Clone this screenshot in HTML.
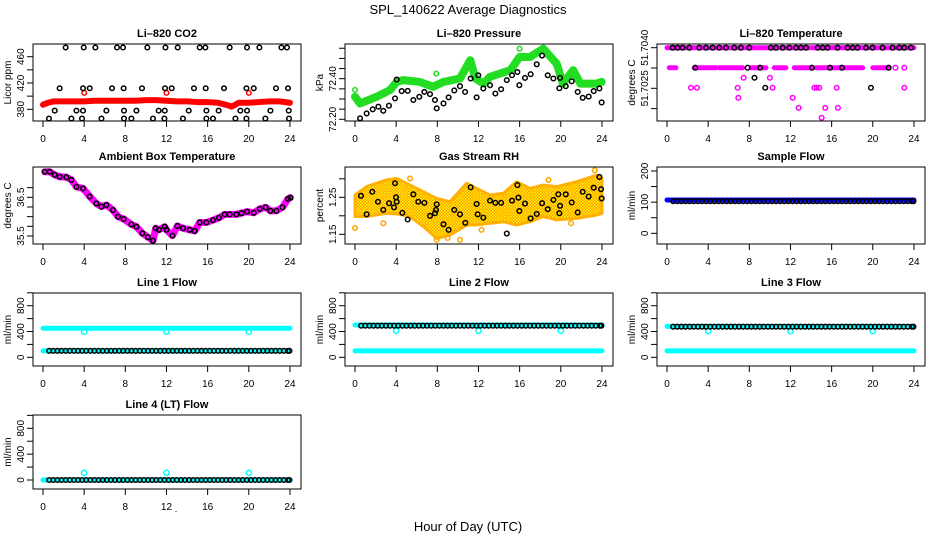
<!DOCTYPE html>
<html><head><meta charset="utf-8"><style>
html,body{margin:0;padding:0;background:#fff}
svg{display:block;font-family:"Liberation Sans",Arial,sans-serif}
</style></head><body>
<svg id="fig" width="936" height="540" viewBox="0 0 936 540">
<defs>
<pattern id="rhpat" width="3" height="3" patternUnits="userSpaceOnUse"><rect width="3" height="3" fill="#ff9a00"/><rect x="0" y="0" width="1.5" height="1.5" fill="#ffff00"/><rect x="1.5" y="1.5" width="1.5" height="1.5" fill="#ffee00"/></pattern>
</defs>
<text x="468" y="14" text-anchor="middle" font-size="13">SPL_140622  Average Diagnostics</text>
<text x="468" y="531" text-anchor="middle" font-size="13">Hour of Day (UTC)</text>
<text x="176" y="512" text-anchor="middle" font-size="9">.</text>
</svg>
<script>
// ---------- data ----------
const xTicks = [0,4,8,12,16,20,24];
// CO2
const co2RedHours = [0,0.5,1,2,3,4,5,6,7,8,9,10,11,12,13,14,15,16,17,17.5,18,18.3,18.7,19,20,21,22,23,24];
const co2RedVals  = [387,390,392,392,392,392,393,393,393,393,393,394,394,393,392,392,391,391,390,388,386,384,387,390,390,391,392,392,390];
const co2RedExtraHours = [4,12,20];
const co2RedExtraVals  = [405,405,405];
const co2BlackHours = [2.2,3.96,5.09,7.19,7.78,10.14,11.9,13.09,15.23,15.78,18.14,19.83,21.03,23.17,23.71,
 1.62,3.89,4.54,6.71,7.84,9.62,11.86,12.51,14.67,15.81,17.59,19.77,20.48,22.64,23.81,
 1.14,3.25,3.89,6.16,7.87,9.08,11.24,11.83,14.16,15.88,17.07,19.18,19.83,22.1,23.88,
 0.58,2.76,3.79,5.68,7.87,8.59,10.69,11.8,13.6,15.88,16.52,18.7,19.77,21.61,23.91];
const co2BlackVals = [474,474,474,474,474,474,474,474,474,474,474,474,474,474,474,
 412,412,412,412,412,412,412,412,412,412,412,412,412,412,412,
 378,378,378,378,378,378,378,378,378,378,378,378,378,378,378,
 366,366,366,366,366,366,366,366,366,366,366,366,366,366,366];
// Pressure
const presGreenHours = [0,0.49,2.1,3.4,4.05,4.7,6.3,7.6,7.9,8.6,10.2,11.2,11.7,12.5,13.1,15.1,16.0,17.0,18.3,19.6,20.2,21.2,21.9,23.5,23.97];
const presGreenVals  = [72.311,72.278,72.311,72.344,72.384,72.393,72.384,72.36,72.368,72.384,72.401,72.491,72.401,72.376,72.409,72.442,72.507,72.507,72.548,72.474,72.376,72.442,72.376,72.376,72.384];
const presGreenExtraHours = [0,7.9,16.0];
const presGreenExtraVals  = [72.345,72.425,72.548];
const presBlackHours = [0.49,1.13,1.72,2.27,2.75,3.3,3.89,4.05,4.54,5.12,5.67,6.25,6.74,7.29,7.77,7.94,8.6,9.1,9.65,10.2,10.7,11.24,11.82,11.98,12.47,13.12,13.64,14.2,14.75,15.26,15.78,15.97,16.52,17.07,17.66,18.18,18.73,19.28,19.86,19.93,20.48,21.06,21.64,22.13,22.71,23.2,23.75,23.97];
const presBlackVals  = [72.205,72.229,72.249,72.262,72.242,72.267,72.303,72.396,72.339,72.340,72.295,72.311,72.335,72.324,72.295,72.254,72.278,72.308,72.342,72.363,72.335,72.401,72.308,72.417,72.352,72.368,72.327,72.348,72.393,72.417,72.433,72.368,72.404,72.422,72.471,72.514,72.417,72.401,72.353,72.404,72.363,72.387,72.335,72.306,72.312,72.339,72.352,72.283];
// Li-820 temperature
const tempTopHours = [0,24];
const tempTopVals = [51.7040,51.7040];
const tempL1Start = [0.22,2.65,5.08,8.16,10.43,12.37,14.48,20.0];
const tempL1End   = [0.87,4.76,7.35,9.62,11.56,14.0,19.01,21.6];
const tempL1Val = 51.70326;
const tempMagHours = [22.2,23.06,7.45,10.0,2.33,2.91,6.87,10.26,14.32,14.55,14.8,16.49,23.06,6.93,12.21,12.79,15.38,16.61,15.03];
const tempMagVals  = [51.70326,51.70326,51.70289,51.70289,51.70252,51.70252,51.70252,51.70252,51.70252,51.70252,51.70252,51.70252,51.70252,51.70215,51.70215,51.70178,51.70178,51.70178,51.70141];
const tempBlackHours = [0.55,1.03,1.52,2.17,3.14,3.79,4.43,5.08,5.73,6.54,7.19,8.0,10.1,10.59,11.24,11.89,12.54,13.02,13.51,14.64,15.13,15.61,16.58,17.55,18.04,18.52,19.34,19.98,20.95,21.92,22.58,23.06,23.71,
 2.75,7.84,9.04,14.09,15.84,17.0,21.54,8.5,9.55,19.82];
const tempBlackVals = [51.704,51.704,51.704,51.704,51.704,51.704,51.704,51.704,51.704,51.704,51.704,51.704,51.704,51.704,51.704,51.704,51.704,51.704,51.704,51.704,51.704,51.704,51.704,51.704,51.704,51.704,51.704,51.704,51.704,51.704,51.704,51.704,51.704,
 51.70326,51.70326,51.70326,51.70326,51.70326,51.70326,51.70326,51.70289,51.70252,51.70252];
// Ambient box temperature
const ambHours = [0.17,0.65,1.14,1.62,2.27,2.76,3.25,3.89,4.54,5.19,5.68,6.16,6.8,7.29,7.84,8.59,9.08,9.66,10.2,10.69,10.95,11.27,11.83,11.99,12.58,13.06,13.61,14.26,14.74,15.23,15.88,16.52,17.1,17.66,18.14,18.79,19.28,19.83,20.48,21.06,21.64,22.1,22.68,23.27,23.81,24.04];
const ambVals  = [37.16,37.16,37.08,37.03,37.02,36.95,36.77,36.73,36.52,36.34,36.26,36.30,36.17,36.00,35.94,35.80,35.74,35.57,35.47,35.38,35.70,35.66,35.74,35.66,35.51,35.76,35.70,35.66,35.63,35.85,35.85,35.91,35.97,36.06,36.06,36.06,36.09,36.13,36.10,36.20,36.24,36.15,36.15,36.24,36.46,36.49];
// Gas stream RH
const rhEnvHours = [0,1.13,3.08,4.05,5.35,6.64,7.94,9.23,10.85,11.82,13.12,14.42,15.71,17.01,18.3,19.6,21.54,23.49,24.0];
const rhUpper = [1.256,1.279,1.297,1.301,1.283,1.265,1.247,1.238,1.288,1.274,1.256,1.261,1.292,1.274,1.283,1.279,1.292,1.31,1.301];
const rhLower = [1.198,1.198,1.207,1.205,1.198,1.171,1.139,1.148,1.175,1.175,1.18,1.184,1.175,1.184,1.198,1.189,1.193,1.202,1.207];
const rhOrangeHours = [0,2.75,7.94,10.2,12.3,23.3,18.8,5.35,9.0,21.0];
const rhOrangeVals  = [1.167,1.18,1.135,1.135,1.162,1.323,1.297,1.301,1.14,1.18];
const rhBlackHours = [0.58,1.13,1.68,2.23,2.75,3.31,3.79,3.89,3.99,4.05,4.6,5.12,5.67,6.15,6.74,7.29,7.77,7.87,7.94,8.6,9.1,9.65,10.2,10.72,11.24,11.82,11.92,12.47,13.12,13.64,14.2,14.75,15.26,15.78,15.88,15.97,16.52,17.07,17.66,18.18,18.73,19.28,19.76,19.86,19.93,20.48,21.06,21.64,22.13,22.71,23.2,23.75,23.91,23.97];
const rhBlackVals  = [1.254,1.204,1.265,1.238,1.216,1.234,1.223,1.288,1.25,1.238,1.208,1.19,1.258,1.238,1.235,1.2,1.207,1.216,1.231,1.177,1.162,1.216,1.204,1.181,1.277,1.232,1.204,1.195,1.241,1.235,1.235,1.152,1.241,1.283,1.249,1.213,1.233,1.193,1.205,1.234,1.218,1.243,1.258,1.207,1.227,1.258,1.236,1.209,1.265,1.252,1.276,1.305,1.272,1.247];
// Flows (black sample hours shared)
const flowHours = [0.6,1.0,1.4,1.8,2.2,2.6,3.0,3.4,3.8,4.2,4.6,5.0,5.4,5.8,6.2,6.6,7.0,7.4,7.8,8.2,8.6,9.0,9.4,9.8,10.2,10.6,11.0,11.4,11.8,12.2,12.6,13.0,13.4,13.8,14.2,14.6,15.0,15.4,15.8,16.2,16.6,17.0,17.4,17.8,18.2,18.6,19.0,19.4,19.8,20.2,20.6,21.0,21.4,21.8,22.2,22.6,23.0,23.4,23.8,23.95];
const dipHours = [4,12,20];
const sampleBlue = 107, sampleBlack = 103;
const line1CyanTop = 450, line1CyanLow = 100, line1Black = 100, line1Dip = 397;
const line2CyanTop = 500, line2CyanLow = 100, line2Black = 490, line2Dip = 412;
const line3CyanTop = 480, line3CyanLow = 100, line3Black = 475, line3Dip = 405;
const line4Cyan = 0, line4Black = 0, line4Spike = 110;

// ---------- drawing ----------
const NS = "http://www.w3.org/2000/svg";
const svg = document.getElementById("fig");
function mk(tag, attrs, parent){const e=document.createElementNS(NS,tag);for(const k in attrs)e.setAttribute(k,attrs[k]);(parent||svg).appendChild(e);return e;}
const colX = [33,345,657], W = 268;
const rowY = [44,167,293,415], rowH = [77,77,73,74];

function makePanel(name, col, row, title, ylab, v0, y0, v1, y1, ticks, labels){
  const bx = colX[col], by = rowY[row], bh = rowH[row];
  const g = mk("g",{});
  
  
  const xs = h => bx + 10 + h * 10.29;
  const ys = v => y0 + (v - v0) * (y1 - y0) / (v1 - v0);
  const t = mk("text",{x:bx+W/2,y:by-7,"text-anchor":"middle","font-size":"11","font-weight":"bold"},g);
  t.textContent = title;
  
  
  const yl = mk("text",{transform:`translate(${bx-22},${by+bh/2}) rotate(-90)`,"text-anchor":"middle","font-size":"10"},g);
  yl.textContent = ylab;
  
  
  xTicks.forEach(h=>{
    const x = xs(h);
    mk("line",{x1:x,y1:by+bh,x2:x,y2:by+bh+6,stroke:"#000","stroke-width":"1"},g);
    const tl = mk("text",{x:x,y:by+bh+21,"text-anchor":"middle","font-size":"10"},g);
    tl.textContent = h;
    
    
  });
  ticks.forEach((v,i)=>{
    const y = ys(v);
    mk("line",{x1:bx-6,y1:y,x2:bx,y2:y,stroke:"#000","stroke-width":"1"},g);
    if(labels[i]){
      const tl = mk("text",{transform:`translate(${bx-9},${y}) rotate(-90)`,"text-anchor":"middle","font-size":"10"},g);
      tl.textContent = labels[i];
      
      
    }
  });
  const plot = mk("g",{},g);
  const clipId = "clip"+name;
  const cp = mk("clipPath",{id:clipId},g); mk("rect",{x:bx,y:by,width:W,height:bh},cp);
  plot.setAttribute("clip-path",`url(#${clipId})`);
  
  
  const box = mk("rect",{x:bx,y:by,width:W,height:bh,fill:"none",stroke:"#000","stroke-width":"1"},g);
  
  
  return {xs, ys, plot};
}
function band(P, hours, vals, color, w, name){
  const pts = hours.map((h,i)=>P.xs(h)+","+P.ys(vals[i])).join(" ");
  const e = mk("polyline",{points:pts,fill:"none",stroke:color,"stroke-width":w,"stroke-linejoin":"round","stroke-linecap":"round"},P.plot);
  
  
}
function pts(P, hours, vals, color, name, r){
  hours.forEach((h,i)=>{
    const c = mk("circle",{cx:P.xs(h),cy:P.ys(vals[i]),r:r||2.3,fill:"none",stroke:color,"stroke-width":"1.5"},P.plot);
    
    
  });
}
const rep = (n,v)=>Array(n).fill(v);

// CO2
let P = makePanel("co2",0,0,"Li\u2013820 CO2","Licor ppm",380,109.3,460,56.7,[380,400,420,440,460],["380","","420","","460"]);
band(P, co2RedHours, co2RedVals, "#ff0000", 6, "co2-red-series");
pts(P, co2RedExtraHours, co2RedExtraVals, "#ff0000", "co2-red-point");
pts(P, co2BlackHours, co2BlackVals, "#000", "co2-black-point");

// Pressure
P = makePanel("pressure",1,0,"Li\u2013820 Pressure","kPa",72.20,119.3,72.40,78.7,[72.20,72.25,72.30,72.35,72.40,72.45,72.50,72.55],["72.20","","","","72.40","","",""]);
band(P, presGreenHours, presGreenVals, "#22dd22", 8, "pressure-green-series");
pts(P, presGreenExtraHours, presGreenExtraVals, "#22dd22", "pressure-green-point");
pts(P, presBlackHours, presBlackVals, "#000", "pressure-black-point");

// Li-820 temperature
P = makePanel("li820-temp",2,0,"Li\u2013820 Temperature","degrees C",51.7040,47.7,51.7025,88.3,[51.7040,51.70325,51.7025,51.70175],["51.7040","","51.7025",""]);
band(P, tempTopHours, tempTopVals, "#ff00ff", 5, "temp-magenta-top");
tempL1Start.forEach((s,i)=>band(P,[s,tempL1End[i]],[tempL1Val,tempL1Val],"#ff00ff",5,"temp-magenta-cluster"));
pts(P, tempMagHours, tempMagVals, "#ff00ff", "temp-magenta-point");
pts(P, tempBlackHours, tempBlackVals, "#000", "temp-black-point");

// Ambient box temperature
P = makePanel("ambient",0,1,"Ambient Box Temperature","degrees C",36.5,197.3,35.5,236,[35.5,35.75,36.0,36.25,36.5,36.75],["35.5","","","","36.5",""]);
band(P, ambHours, ambVals, "#ff00ff", 7, "ambient-magenta-series");
pts(P, ambHours, ambVals, "#000", "ambient-black-point");

// RH
P = makePanel("rh",1,1,"Gas Stream RH","percent",1.25,197.3,1.15,234.3,[1.15,1.20,1.25,1.30],["1.15","","1.25",""]);
{
  const up = rhEnvHours.map((h,i)=>P.xs(h)+","+P.ys(rhUpper[i]));
  const lo = rhEnvHours.map((h,i)=>P.xs(h)+","+P.ys(rhLower[i])).reverse();
  const e = mk("polygon",{points:up.concat(lo).join(" "),fill:"url(#rhpat)",stroke:"#ffb000","stroke-width":"3","stroke-linejoin":"round"},P.plot);
  
  
}
pts(P, rhOrangeHours, rhOrangeVals, "#ffa500", "rh-orange-point");
pts(P, rhBlackHours, rhBlackVals, "#000", "rh-black-point");

// Sample flow
P = makePanel("sample-flow",2,1,"Sample Flow","ml/min",0,233.3,200,171,[0,50,100,150,200],["0","","100","","200"]);
band(P,[0,24],[sampleBlue,sampleBlue],"#0000ff",5,"sample-blue-series");
pts(P, flowHours, rep(flowHours.length,sampleBlack), "#000", "sample-black-point");

const flowTicks=[0,200,400,600,800,1000], flowLabels=["0","","400","","800",""];
function flowPanel(name,col,row,title,top,low,black,dip,dipColor){
  const yb = row===2?357.3:480, yt = row===2?305.7:428.3;
  const P = makePanel(name,col,row,title,"ml/min",0,yb,800,yt,flowTicks,flowLabels);
  if(top!==null) band(P,[0,24],[top,top],"#00ffff",5,name+"-cyan-top");
  band(P,[0,24],[low,low],"#00ffff",5,name+"-cyan-low");
  pts(P, dipHours, rep(3,dip), "#00ffff", name+"-cyan-point", 2.6);
  pts(P, flowHours, rep(flowHours.length,black), "#000", name+"-black-point");
}
flowPanel("line1-flow",0,2,"Line 1 Flow",line1CyanTop,line1CyanLow,line1Black,line1Dip);
flowPanel("line2-flow",1,2,"Line 2 Flow",line2CyanTop,line2CyanLow,line2Black,line2Dip);
flowPanel("line3-flow",2,2,"Line 3 Flow",line3CyanTop,line3CyanLow,line3Black,line3Dip);
flowPanel("line4-flow",0,3,"Line 4 (LT) Flow",null,line4Cyan,line4Black,line4Spike);
</script>
</body></html>
